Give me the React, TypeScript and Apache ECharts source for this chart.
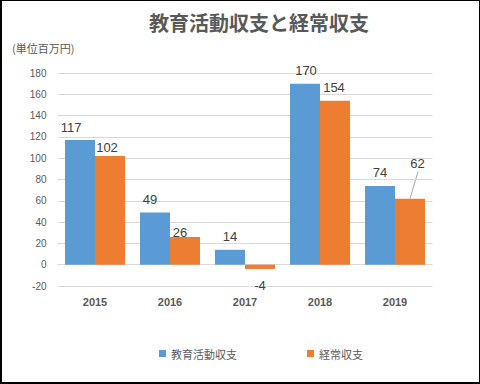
import React, { useEffect, useRef } from "react";
import * as echarts from "echarts";

const categories = ["2015", "2016", "2017", "2018", "2019"];
const educationValues = [117, 49, 14, 170, 74];
const ordinaryValues = [102, 26, -4, 154, 62];
const seriesNames = ["教育活動収支", "経常収支"];
const titleText = "教育活動収支と経常収支";
const unitText = "(単位百万円)";
const yMin = -20;
const yMax = 180;
const yInterval = 20;

// label nudges in px [dx, dy]
const educationLabelShift = [[-9, 1], [-5, 0], [0, 0], [1, 0], [0, 0]];
const ordinaryLabelShift = [[-3, 5], [-5, 9], [0, 3], [-1, 0], [7.5, -21.5]];
// index of the orange label that has a leader line
const leaderIndex = 4;

const labelFont = "'Liberation Sans', Arial, sans-serif";
const cjkFont = "'Noto Sans CJK JP', 'Noto Sans', sans-serif";
const BAR_W = 30;

export default function App() {
  const ref = useRef<HTMLDivElement>(null);
  useEffect(() => {
    document.body.style.margin = "0";
    if (!ref.current) return;
    const chart = echarts.init(ref.current, undefined, { renderer: "svg" });
    const baseGraphic: any[] = [
      {
        type: "text",
        x: 259,
        y: 22,
        style: {
          text: titleText,
          fill: "#595959",
          font: `bold 20px ${cjkFont}`,
          textAlign: "center",
          textVerticalAlign: "middle",
        },
      },
      {
        type: "text",
        x: 12,
        y: 48,
        style: {
          text: unitText,
          fill: "#595959",
          font: `11px ${cjkFont}`,
          textAlign: "left",
          textVerticalAlign: "middle",
        },
      },
    ];
    chart.setOption({
      animation: false,
      backgroundColor: "#ffffff",
      graphic: baseGraphic,
      grid: { left: 57.5, right: 47.5, top: 73, bottom: 98, containLabel: false },
      legend: {
        left: 154,
        top: 343,
        itemWidth: 7,
        itemHeight: 7,
        itemGap: 70,
        icon: "rect",
        textStyle: { color: "#595959", fontSize: 11, fontFamily: cjkFont },
        data: seriesNames,
      },
      xAxis: {
        type: "category",
        data: categories,
        axisLine: { show: false, onZero: false },
        axisTick: { show: false },
        axisLabel: {
          color: "#595959",
          fontSize: 11,
          fontWeight: "bold",
          fontFamily: labelFont,
          margin: 10,
        },
      },
      yAxis: {
        type: "value",
        min: yMin,
        max: yMax,
        interval: yInterval,
        axisLine: { show: false },
        axisTick: { show: false },
        axisLabel: { color: "#595959", fontSize: 10, fontFamily: labelFont, margin: 11 },
        splitLine: { lineStyle: { color: "#d9d9d9", width: 1 } },
      },
      series: [
        {
          name: seriesNames[0],
          type: "bar",
          barWidth: BAR_W,
          barGap: "0%",
          itemStyle: { color: "#5b9bd5" },
          data: educationValues.map((v) => ({
            value: v,
            label: { position: v < 0 ? "bottom" : "top" },
          })),
          label: {
            show: true,
            distance: 7,
            color: "#404040",
            fontSize: 13,
            fontFamily: labelFont,
          },
          labelLayout: (p: any) => ({
            dx: educationLabelShift[p.dataIndex][0],
            dy: educationLabelShift[p.dataIndex][1],
          }),
        },
        {
          name: seriesNames[1],
          type: "bar",
          barWidth: BAR_W,
          barGap: "0%",
          itemStyle: { color: "#ed7d31" },
          data: ordinaryValues.map((v) => ({
            value: v,
            label: { position: v < 0 ? "bottom" : "top" },
          })),
          label: {
            show: true,
            distance: 7,
            color: "#404040",
            fontSize: 13,
            fontFamily: labelFont,
          },
          labelLayout: (p: any) => ({
            dx: ordinaryLabelShift[p.dataIndex][0],
            dy: ordinaryLabelShift[p.dataIndex][1],
          }),
        },
      ],
    });
    // leader line for the moved label, placed through the chart's own scales
    const pt = chart.convertToPixel({ gridIndex: 0 }, [leaderIndex, ordinaryValues[leaderIndex]]) as number[];
    if (pt) {
      const barCenterX = pt[0] + BAR_W / 2;
      const topY = pt[1];
      chart.setOption({
        graphic: [
          ...baseGraphic,
          {
            type: "line",
            shape: { x1: barCenterX, y1: topY, x2: barCenterX + 8, y2: topY - 27 },
            style: { stroke: "#a6a6a6", lineWidth: 1 },
            silent: true,
          },
        ],
      });
    }
    return () => chart.dispose();
  }, []);
  return (
    <div style={{ position: "relative", width: 480, height: 384 }}>
      <div ref={ref} style={{ position: "absolute", left: 0, top: 0, width: 480, height: 384 }} />
      <div
        style={{
          position: "absolute",
          left: 0,
          top: 0,
          width: 480,
          height: 384,
          boxSizing: "border-box",
          borderTop: "1px solid #000",
          borderRight: "1px solid #000",
          borderLeft: "2px solid #000",
          borderBottom: "2px solid #000",
          pointerEvents: "none",
        }}
      />
    </div>
  );
}
